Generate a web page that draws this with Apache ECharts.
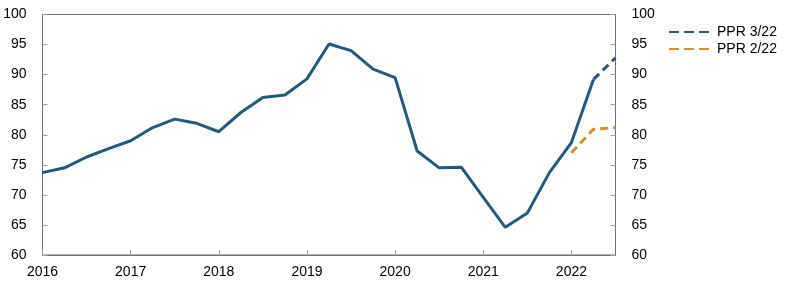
<!DOCTYPE html>
<html>
<head>
<meta charset="utf-8">
<script src="https://cdn.jsdelivr.net/npm/echarts@6/dist/echarts.min.js"></script>
<style>
html,body{margin:0;padding:0;background:#fff;}
#chart{width:797px;height:290px;}
</style>
</head>
<body>
<div id="chart"></div>
<script>
// Quarterly periods
const quarters = ['2016K1','2016K2','2016K3','2016K4','2017K1','2017K2','2017K3','2017K4',
  '2018K1','2018K2','2018K3','2018K4','2019K1','2019K2','2019K3','2019K4',
  '2020K1','2020K2','2020K3','2020K4','2021K1','2021K2','2021K3','2021K4',
  '2022K1','2022K2'];
const history = [73.7,74.5,76.3,77.7,79.0,81.2,82.6,81.9,
  80.5,83.7,86.2,86.6,89.3,95.1,94.0,90.9,
  89.5,77.3,74.5,74.6,69.6,64.6,67.0,73.7,
  78.7,89.2];
const ppr322Quarters = ['2022K2','2022K3'];
const ppr322 = [89.2,92.8];
const ppr222Quarters = ['2022K1','2022K2','2022K3'];
const ppr222 = [77.0,80.9,81.2];
const yTicks = [60,65,70,75,80,85,90,95,100];
const xYears = [2016,2017,2018,2019,2020,2021,2022];

function qx(s){ const y=+s.slice(0,4), q=+s.slice(5); return y+(q-1)/4; }
function pairs(qs, vals){ return qs.map((q,i)=>[qx(q), vals[i]]); }

const BLUE = '#255a7b';
const ORANGE = '#d98c2e';
const FONT = 'Liberation Sans, Arial, Helvetica, sans-serif';

const yAxisCommon = {
  type:'value', min:yTicks[0], max:yTicks[yTicks.length-1], interval:5,
  axisLine:{show:true, lineStyle:{color:'#707070', width:1}},
  axisTick:{show:true, inside:true, length:5, lineStyle:{color:'#a0a0a0'}},
  axisLabel:{color:'#000', fontSize:14, fontFamily:FONT, margin:16},
  splitLine:{show:false}
};

const chart = echarts.init(document.getElementById('chart'), null, {renderer:'canvas'});
chart.setOption({
  animation:false,
  grid:{left:42.5, right:181.5, top:14.5, bottom:35, show:true, borderColor:'#707070', borderWidth:1, backgroundColor:'transparent'},
  legend:{
    orient:'vertical', left:663, top:20, itemWidth:40, itemHeight:14, itemGap:3,
    data:['PPR 3/22','PPR 2/22'],
    itemStyle:{opacity:0},
    lineStyle:{type:[10,5]},
    textStyle:{color:'#000', fontSize:14, fontFamily:FONT, padding:[0,0,0,3]}
  },
  xAxis:{
    type:'value', min:xYears[0], max:2022.5, interval:1,
    axisLine:{show:true, lineStyle:{color:'#707070'}},
    axisTick:{show:true, inside:true, length:5, lineStyle:{color:'#a0a0a0'}},
    axisLabel:{color:'#000', fontSize:14, fontFamily:FONT, margin:10,
      formatter:v=> Number.isInteger(v) ? String(v) : '', showMaxLabel:false},
    splitLine:{show:false}
  },
  yAxis:[
    Object.assign({position:'left'}, yAxisCommon),
    Object.assign({position:'right'}, yAxisCommon)
  ],
  series:[
    {name:'Historikk', type:'line', data:pairs(quarters, history), symbol:'none',
      lineStyle:{color:BLUE, width:3}, itemStyle:{color:BLUE}, z:3},
    {name:'PPR 3/22', type:'line', data:pairs(ppr322Quarters, ppr322), symbol:'none',
      lineStyle:{color:BLUE, width:3, type:[8,5]}, itemStyle:{color:BLUE}, z:3},
    {name:'PPR 2/22', type:'line', data:pairs(ppr222Quarters, ppr222), symbol:'none',
      lineStyle:{color:ORANGE, width:3, type:[8,5]}, itemStyle:{color:ORANGE}, z:2}
  ]
});
</script>
</body>
</html>
